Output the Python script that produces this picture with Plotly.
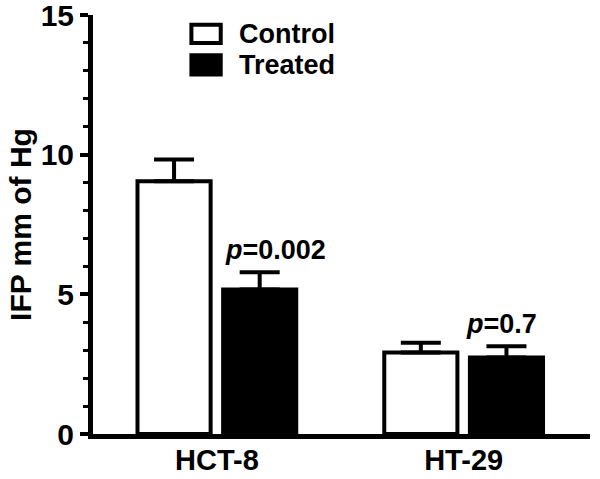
import plotly.graph_objects as go

categories = ["HCT-8", "HT-29"]
control_mean = [9.05, 2.92]
control_sem = [0.78, 0.35]
treated_mean = [5.17, 2.74]
treated_sem = [0.62, 0.40]
p_labels = ["0.002", "0.7"]
y_ticks = [0, 5, 10, 15]

FONT = "Liberation Sans, Arial, Helvetica, sans-serif"

fig = go.Figure()
fig.add_trace(go.Bar(
    x=categories, y=control_mean, name="Control",
    marker=dict(color="white", line=dict(color="black", width=4)),
    error_y=dict(type="data", array=control_sem, arrayminus=[0, 0], symmetric=False,
                 color="black", thickness=4, width=20),
    showlegend=False,
))
fig.add_trace(go.Bar(
    x=categories, y=treated_mean, name="Treated",
    marker=dict(color="black", line=dict(color="black", width=4)),
    error_y=dict(type="data", array=treated_sem, arrayminus=[0, 0], symmetric=False,
                 color="black", thickness=4, width=20),
    showlegend=False,
))

# p-value annotations above treated bars
for cat, m, s, p, xs in zip(categories, treated_mean, treated_sem, p_labels, [59, 38]):
    fig.add_annotation(
        x=cat, y=m + s, xref="x", yref="y", xshift=xs, yshift=5,
        text="<i>p</i>=" + p, showarrow=False, yanchor="bottom", xanchor="center",
        font=dict(family=FONT, size=27, color="black", weight="bold"),
    )

# manual legend
fig.add_shape(type="rect", xref="paper", yref="paper", x0=0.198, x1=0.257, y0=0.933, y1=0.977,
              line=dict(color="black", width=4), fillcolor="white")
fig.add_shape(type="rect", xref="paper", yref="paper", x0=0.194, x1=0.261, y0=0.853, y1=0.909,
              line=dict(color="black", width=0), fillcolor="black")
for name, yp in [("Control", 0.955), ("Treated", 0.881)]:
    fig.add_annotation(x=0.29, y=yp, xref="paper", yref="paper", text=name, showarrow=False,
                       xanchor="left", yanchor="middle",
                       font=dict(family=FONT, size=27, color="black", weight="bold"))

fig.update_layout(
    width=600, height=479,
    margin=dict(l=93, r=10, t=15, b=45, autoexpand=False),
    paper_bgcolor="white", plot_bgcolor="white",
    barmode="group", bargap=0.306, bargroupgap=0.146,
    font=dict(family=FONT, color="black"),
)
fig.update_xaxes(
    range=[-0.502, 1.512], showline=True, linecolor="black", linewidth=5,
    ticks="", showgrid=False, zeroline=False, automargin=False,
    ticklabeloverflow="allow", ticklabelstandoff=-4,
    tickfont=dict(family=FONT, size=29, color="black", weight="bold"),
)
fig.update_yaxes(
    range=[0, 15.0001], tickvals=y_ticks, showline=True, linecolor="black", linewidth=5,
    ticks="outside", ticklen=8, tickwidth=4, tickcolor="black",
    minor=dict(tickvals=[1, 2, 3, 4, 6, 7, 8, 9, 11, 12, 13, 14], ticks="outside",
               ticklen=5, tickwidth=3, tickcolor="black", showgrid=False),
    showgrid=False, zeroline=False, automargin=False,
    ticklabeloverflow="allow",
    tickfont=dict(family=FONT, size=30, color="black", weight="bold"),
    title=dict(text="IFP mm of Hg", font=dict(family=FONT, size=30, color="black", weight="bold"),
               standoff=2),
)

fig.write_html("out.html", config={"displayModeBar": False},
               post_script="document.body.style.margin='0px';document.body.style.overflow='hidden';")
